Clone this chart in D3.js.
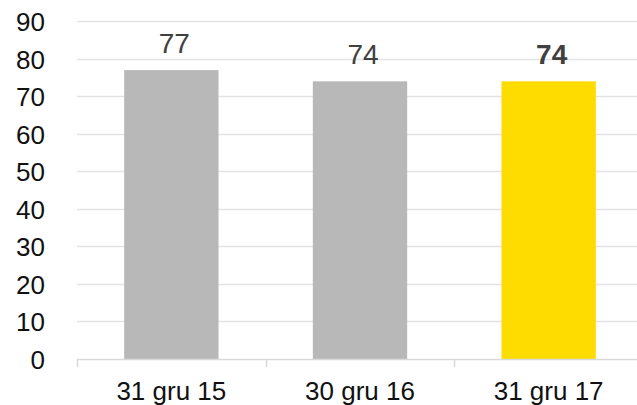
<!DOCTYPE html>
<html>
<head>
<meta charset="utf-8">
<script src="https://cdn.jsdelivr.net/npm/d3@7"></script>
<style>
  html, body { margin: 0; padding: 0; background: #fff; }
  svg { display: block; }
  text { font-family: "Liberation Sans", Arial, sans-serif; }
</style>
</head>
<body>
<svg id="chart" width="637" height="405"></svg>
<script>
const categories = ["31 gru 15", "30 gru 16", "31 gru 17"];
const values = [77, 74, 74];
const barColors = ["#b8b8b8", "#b8b8b8", "#ffdc00"];
const labelBold = [false, false, true];
const yTicks = [0, 10, 20, 30, 40, 50, 60, 70, 80, 90];

const svg = d3.select("#chart");
const W = 637, H = 405;
const x0 = 77, x1 = 643;
const yTop = 21.3, yBottom = 359;

const x = d3.scaleBand().domain(categories).range([x0, x1]).paddingInner(0.5).paddingOuter(0.25);
const y = d3.scaleLinear().domain([0, 90]).range([yBottom, yTop]);

// gridlines
svg.append("g")
  .selectAll("line")
  .data(yTicks.filter(d => d > 0))
  .join("line")
  .attr("x1", x0).attr("x2", W)
  .attr("y1", d => Math.round(y(d)) + 0.5).attr("y2", d => Math.round(y(d)) + 0.5)
  .attr("stroke", "#e3e3e3").attr("stroke-width", 1.5);

// y axis labels
const yAxis = d3.axisLeft(y).tickValues(yTicks).tickSize(0).tickPadding(0);
const gy = svg.append("g").attr("transform", `translate(45,0)`).call(yAxis);
gy.select(".domain").remove();
gy.selectAll("text")
  .attr("font-size", 26)
  .attr("fill", "#111")
  .attr("font-family", "Liberation Sans, Arial, sans-serif")
  .attr("dy", "0.36em");

// bars
svg.append("g")
  .selectAll("rect")
  .data(categories)
  .join("rect")
  .attr("x", d => x(d))
  .attr("width", x.bandwidth())
  .attr("y", (d, i) => y(values[i]))
  .attr("height", (d, i) => y(0) - y(values[i]))
  .attr("fill", (d, i) => barColors[i]);

// x axis
const xOuter = d3.scaleBand().domain(categories).range([x0, x1]);
const gx = svg.append("g").attr("transform", `translate(0,${yBottom})`);
gx.append("line")
  .attr("x1", x0).attr("x2", W)
  .attr("y1", 0.5).attr("y2", 0.5)
  .attr("stroke", "#d9d9d9").attr("stroke-width", 1.5);
gx.selectAll("line.tick")
  .data(categories)
  .join("line")
  .attr("class", "tick")
  .attr("x1", d => Math.round(xOuter(d)) + 0.5).attr("x2", d => Math.round(xOuter(d)) + 0.5)
  .attr("y1", 0).attr("y2", 8)
  .attr("stroke", "#d9d9d9").attr("stroke-width", 1.5);
gx.selectAll("text")
  .data(categories)
  .join("text")
  .attr("x", d => xOuter(d) + xOuter.bandwidth() / 2)
  .attr("y", 41)
  .attr("text-anchor", "middle")
  .attr("font-size", 26)
  .attr("fill", "#111")
  .text(d => d);

// data labels
svg.append("g")
  .selectAll("text")
  .data(categories)
  .join("text")
  .attr("x", d => x(d) + x.bandwidth() / 2 + 3)
  .attr("y", (d, i) => y(values[i]) - 17.5)
  .attr("text-anchor", "middle")
  .attr("font-size", 28)
  .attr("font-weight", (d, i) => labelBold[i] ? "bold" : "normal")
  .attr("fill", "#404040")
  .text((d, i) => values[i]);
</script>
</body>
</html>
